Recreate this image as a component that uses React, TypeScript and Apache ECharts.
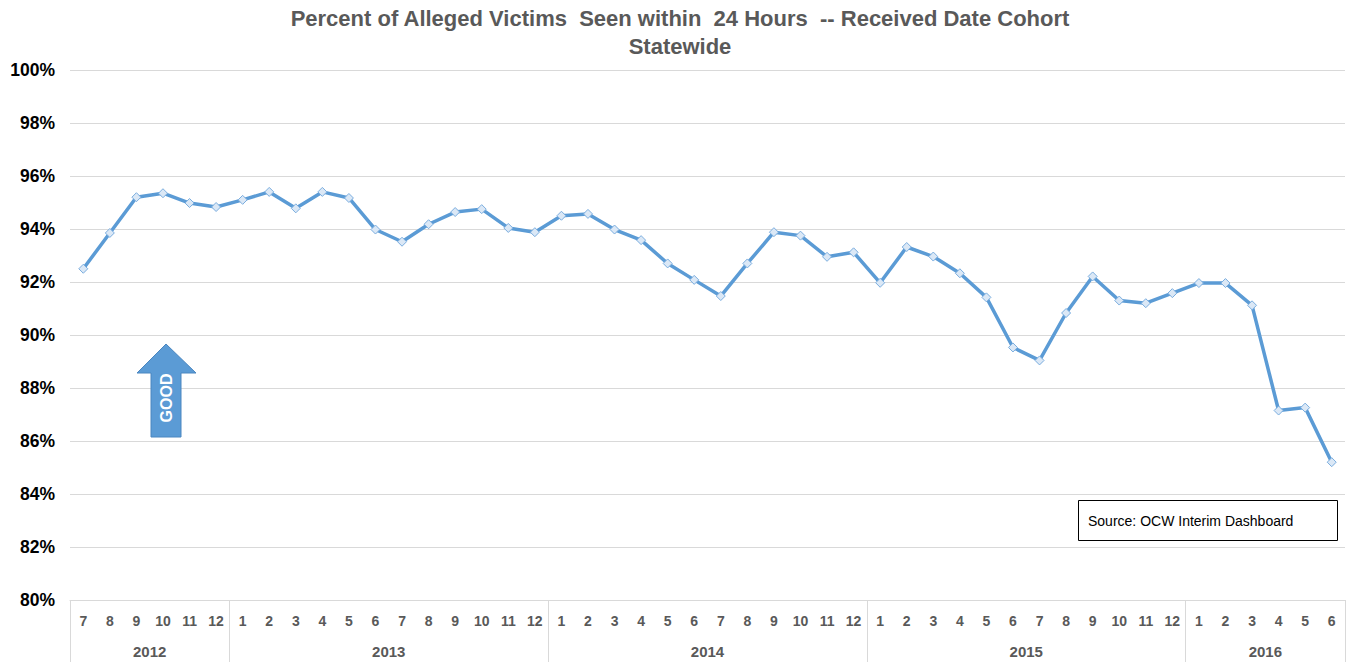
import React, { useEffect, useRef } from 'react';
import * as echarts from 'echarts';

const monthLabels = [
  '7', '8', '9', '10', '11', '12',
  '1', '2', '3', '4', '5', '6', '7', '8', '9', '10', '11', '12',
  '1', '2', '3', '4', '5', '6', '7', '8', '9', '10', '11', '12',
  '1', '2', '3', '4', '5', '6', '7', '8', '9', '10', '11', '12',
  '1', '2', '3', '4', '5', '6',
];
const years = ['2012', '2013', '2014', '2015', '2016'];
const monthsInYear = [6, 12, 12, 12, 6];
const values = [
  92.5, 93.85, 95.2, 95.35, 94.98, 94.83,
  95.1, 95.4, 94.78, 95.4, 95.17, 93.98, 93.52, 94.18, 94.64, 94.75, 94.04, 93.88,
  94.5, 94.57, 93.98, 93.58, 92.7, 92.08, 91.47, 92.7, 93.88, 93.75, 92.95, 93.12,
  91.97, 93.32, 92.96, 92.33, 91.42, 89.53, 89.04, 90.83, 92.21, 91.3, 91.2, 91.58,
  91.96, 91.96, 91.12, 87.15, 87.26, 85.2,
];
const yMin = 80;
const yMax = 100;
const yStep = 2;
const titleLines = ['Percent of Alleged Victims  Seen within  24 Hours  -- Received Date Cohort', 'Statewide'];
const sourceText = 'Source: OCW Interim Dashboard';
const arrowText = 'GOOD';

// Year axis: half-month resolution points so year labels can be centred on their span
const yearAxisData: string[] = new Array(monthLabels.length * 2 + 1).fill('');
const yearBoundaries = new Set<number>();
{
  let pos = 0;
  years.forEach((y, i) => {
    yearBoundaries.add(pos * 2);
    yearAxisData[pos * 2 + monthsInYear[i]] = y;
    pos += monthsInYear[i];
  });
  yearBoundaries.add(pos * 2);
}

export default function App() {
  const ref = useRef<HTMLDivElement>(null);
  useEffect(() => {
    if (!ref.current) return;
    const chart = echarts.init(ref.current, undefined, { renderer: 'svg' });
    const axisFont = 'Liberation Sans Narrow, Liberation Sans, Arial, sans-serif';
    chart.setOption({
      animation: false,
      backgroundColor: '#ffffff',
      title: {
        text: titleLines.join('\n'),
        left: 680,
        textAlign: 'center',
        top: 4,
        padding: 0,
        textStyle: {
          fontFamily: axisFont,
          fontSize: 22,
          fontWeight: 'bold',
          color: '#595959',
          lineHeight: 28,
        },
      },
      grid: {
        left: 70,
        right: 3,
        top: 70,
        bottom: 62,
        containLabel: false,
        outerBoundsMode: 'none',
      },
      xAxis: [
        {
          type: 'category',
          data: monthLabels,
          boundaryGap: true,
          position: 'bottom',
          axisLine: { show: true, lineStyle: { color: '#d9d9d9', width: 1 } },
          axisTick: { show: false },
          axisLabel: {
            interval: 0,
            margin: 14,
            fontFamily: axisFont,
            fontSize: 14,
            fontWeight: 'bold',
            color: '#595959',
          },
          splitLine: { show: false },
        },
        {
          type: 'category',
          data: yearAxisData,
          boundaryGap: false,
          position: 'bottom',
          offset: 0,
          axisLine: { show: false },
          axisTick: {
            show: true,
            interval: (i: number) => yearBoundaries.has(i),
            length: 62,
            lineStyle: { color: '#d9d9d9', width: 1 },
          },
          axisLabel: {
            interval: (_i: number, v: string) => v !== '',
            margin: 44,
            fontFamily: axisFont,
            fontSize: 15,
            fontWeight: 'bold',
            color: '#595959',
          },
          splitLine: { show: false },
        },
      ],
      yAxis: {
        type: 'value',
        min: yMin,
        max: yMax,
        interval: yStep,
        axisLine: { show: false },
        axisTick: { show: false },
        axisLabel: {
          formatter: (v: number) => `${v}%`,
          margin: 15,
          fontFamily: 'Liberation Sans, Arial, sans-serif',
          fontSize: 17.5,
          fontWeight: 'bold',
          color: '#000000',
        },
        splitLine: { show: true, lineStyle: { color: '#d9d9d9', width: 1 } },
      },
      series: [
        {
          type: 'line',
          xAxisIndex: 0,
          data: values,
          symbol: 'diamond',
          symbolSize: 9,
          showAllSymbol: true,
          lineStyle: { color: '#5b9bd5', width: 3.5 },
          itemStyle: { color: '#dbe8f6', borderColor: '#7aaddf', borderWidth: 1 },
          emphasis: { disabled: true },
          z: 3,
        },
      ],
      graphic: [
        {
          type: 'polygon',
          shape: {
            points: [
              [166, 344],
              [196, 373],
              [181, 373],
              [181, 437],
              [151, 437],
              [151, 373],
              [137, 373],
            ],
          },
          style: { fill: '#5b9bd5', stroke: '#4a86c0', lineWidth: 1 },
          z: 10,
        },
        {
          type: 'text',
          x: 166,
          y: 398,
          rotation: Math.PI / 2,
          style: {
            text: arrowText,
            fill: '#ffffff',
            font: 'bold 16px Liberation Sans, Arial, sans-serif',
            align: 'center',
            verticalAlign: 'middle',
          },
          z: 11,
        },
        {
          type: 'rect',
          shape: { x: 1078.5, y: 500.5, width: 259, height: 40 },
          style: { fill: '#ffffff', stroke: '#000000', lineWidth: 1 },
          z: 10,
        },
        {
          type: 'text',
          x: 1088,
          y: 521,
          style: {
            text: sourceText,
            fill: '#000000',
            font: '14px Liberation Sans, Arial, sans-serif',
            align: 'left',
            verticalAlign: 'middle',
          },
          z: 11,
        },
      ],
    });
    return () => chart.dispose();
  }, []);
  return (
    <div
      ref={ref}
      style={{ position: 'absolute', left: 0, top: 0, width: 1348, height: 662, background: '#fff' }}
    />
  );
}
